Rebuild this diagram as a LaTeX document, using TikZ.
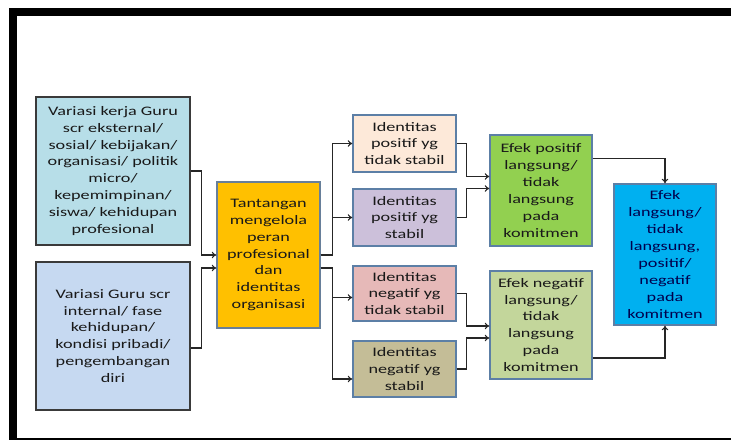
\documentclass[tikz,border=0pt]{standalone}
\usepackage{fontspec}
\setmainfont{Carlito}[FakeStretch=1.4]
\usepackage{xcolor}
\usepackage{tikz}
\usetikzlibrary{arrows.meta,calc}

\definecolor{fillA}{HTML}{B7DEE8}
\definecolor{fillB}{HTML}{C6D9F1}
\definecolor{fillC}{HTML}{FFC000}
\definecolor{fillPosUn}{HTML}{FDE9D9}
\definecolor{fillPosSt}{HTML}{CCC0DA}
\definecolor{fillNegUn}{HTML}{E6B9B8}
\definecolor{fillNegSt}{HTML}{C4BD97}
\definecolor{fillEfPos}{HTML}{92D050}
\definecolor{fillEfNeg}{HTML}{C3D69B}
\definecolor{fillEf}{HTML}{00B0F0}
\definecolor{boxline}{HTML}{5C7FA6}
\definecolor{darkline}{HTML}{3A3A3A}
\definecolor{linedark}{HTML}{262626}

\begin{document}
\begin{tikzpicture}[x=0.75pt, y=-0.75pt,
    box/.style={draw=boxline, line width=0.9pt, align=center, inner sep=1pt,
        font=\fontsize{9.75}{12.7}\selectfont, text=black!90},
    arr/.style={-{To[length=3.5pt,width=5pt]}, line width=0.8pt, draw=linedark}]

        \useasboundingbox (0,0) rectangle (731,441);

        % Frame
        \fill (8.5,8.3) rectangle (731,16);
        \fill (8.5,8.3) rectangle (16.5,440.3);
        \fill (8.5,437.7) rectangle (731,440.3);

        % Box from corner to corner
        \newcommand{\pbox}[8][]{
            \pgfmathsetmacro{\bw}{(#5-#3)*0.75}
            \pgfmathsetmacro{\bh}{(#6-#4)*0.75}
            \node[box, fill=#7, minimum width=\bw pt, minimum height=\bh pt, #1]
                (#2) at ({(#3+#5)/2},{(#4+#6)/2}) {#8};
        }

        \pbox[draw=darkline]{varA}{36}{97}{190}{245}{fillA}{Variasi kerja Guru\\scr eksternal/\\sosial/ kebijakan/\\organisasi/ politik\\micro/\\kepemimpinan/\\siswa/ kehidupan\\profesional}
        \pbox[draw=darkline]{varB}{36}{262}{190}{410}{fillB}{Variasi Guru scr\\internal/ fase\\kehidupan/\\kondisi pribadi/\\pengembangan\\diri}
        \pbox[draw=boxline!70!gray]{tantangan}{217}{182}{320}{328}{fillC}{Tantangan\\mengelola\\peran\\profesional\\dan\\identitas\\organisasi}

        \pbox{posUn}{353}{115}{456}{172}{fillPosUn}{Identitas\\positif yg\\tidak stabil}
        \pbox{posSt}{353}{189}{456}{246}{fillPosSt}{Identitas\\positif yg\\stabil}
        \pbox{negUn}{353}{266}{456}{321}{fillNegUn}{Identitas\\negatif yg\\tidak stabil}
        \pbox{negSt}{353}{341}{456}{397}{fillNegSt}{Identitas\\negatif yg\\stabil}

        \pbox{efPos}{490}{135}{592}{246}{fillEfPos}{Efek positif\\langsung/\\tidak\\langsung\\pada\\komitmen}
        \pbox{efNeg}{490}{271}{592}{379}{fillEfNeg}{Efek negatif\\langsung/\\tidak\\langsung\\pada\\komitmen}
        \pbox[text=blue!30!black]{efek}{614}{184}{716}{325}{fillEf}{Efek\\langsung/\\tidak\\langsung,\\positif/\\negatif\\pada\\komitmen}

        % Into the challenge
        \draw[arr] (varA.east) -- ++(11,0) |- (tantangan.west);
        \draw[arr] ($(varB.east)+(0,12)$) -- ++(11,0) |- ($(tantangan.west)+(0,13)$);

        % Out to the identities
        \draw[arr] (tantangan.east) -- ++(12,0) |- (posUn.west);
        \draw[arr] (tantangan.east) -- ++(12,0) |- (posSt.west);
        \draw[arr] ($(tantangan.east)+(0,13)$) -- ++(12,0) |- ($(negUn.west)+(0,4)$);
        \draw[arr] ($(tantangan.east)+(0,13)$) -- ++(12,0) |- ($(negSt.west)+(0,10)$);

        % Identities to effects
        \foreach \src/\dst/\dy in {posUn/efPos/-14, posSt/efPos/-2, negUn/efNeg/1, negSt/efNeg/13}
            \draw[arr] (\src.east) -- ++(10,0) |- ($(\dst.west)+(0,\dy)$);

        % Effects to the total effect
        \draw[arr] ($(efPos.east)+(0,-32)$) -| (efek.north);
        \draw[arr] ($(efNeg.east)+(0,33)$) -| (efek.south);

\end{tikzpicture}
\end{document}
